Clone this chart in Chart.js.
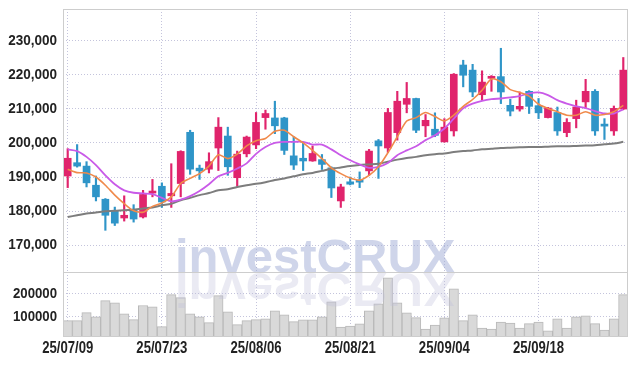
<!DOCTYPE html>
<html><head><meta charset="utf-8">
<script src="https://cdn.jsdelivr.net/npm/chart.js@4.4.1/dist/chart.umd.min.js"></script>
<style>
html,body{margin:0;padding:0;background:#fff;}
#wrap{position:relative;width:636px;height:366px;overflow:hidden;background:#fff;}
#main{position:absolute;left:0;top:0;}
#vol{position:absolute;left:0;top:272px;}
</style></head><body>
<div id="wrap"><canvas id="main" width="636" height="273"></canvas><canvas id="vol" width="636" height="94"></canvas></div>
<script>
const dates = ['25/07/09','25/07/10','25/07/11','25/07/14','25/07/15','25/07/16','25/07/17','25/07/18','25/07/21','25/07/22',
'25/07/23','25/07/24','25/07/25','25/07/28','25/07/29','25/07/30','25/07/31','25/08/01','25/08/04','25/08/05',
'25/08/06','25/08/07','25/08/08','25/08/11','25/08/12','25/08/13','25/08/14','25/08/18','25/08/19','25/08/20',
'25/08/21','25/08/22','25/08/25','25/08/26','25/08/27','25/08/28','25/08/29','25/09/01','25/09/02','25/09/03',
'25/09/04','25/09/05','25/09/08','25/09/09','25/09/10','25/09/11','25/09/12','25/09/15','25/09/16','25/09/17',
'25/09/18','25/09/19','25/09/22','25/09/23','25/09/24','25/09/25','25/09/26','25/09/29','25/09/30','25/10/01'];

const opens = [190300,194200,193200,187600,183500,180200,178000,180600,178300,185300,
187300,184500,188100,203100,192600,192300,198500,202000,189800,196800,
199400,207400,207300,207300,196200,195500,194700,195100,192700,183000,
188600,189100,191800,200600,198500,203000,211300,213000,205000,204000,
200300,203500,222800,221300,214100,218900,219400,211000,209900,215100,
210900,207400,208900,203000,207100,212000,215100,205500,203500,209900];
const highs = [198300,199500,194500,190300,183700,181200,184500,181900,186100,189300,
188300,193900,197700,203700,193500,197100,207400,204600,197600,202000,
208900,209600,212200,207500,201800,200000,199100,196600,193000,187900,
190000,191500,198100,201000,210100,215100,217700,213100,208300,208800,
207100,220300,224200,223000,221100,219700,227700,212800,214900,215300,
213000,210400,210500,207100,212500,218600,215600,207100,210800,225000];
const lows = [186900,192900,187100,183000,174400,175800,177100,176800,178000,184200,
181100,181100,184200,190800,189300,191200,191900,190500,187300,195900,
198300,204000,202700,196600,192200,191900,194600,192200,184000,181100,
187700,186900,190500,189600,197200,200800,208800,203000,201800,201800,
200200,202000,216400,213500,212500,215100,211500,207900,209300,208600,
207100,207300,202200,201800,204400,210100,202200,201000,202200,209700];
const closes = [195500,193200,188300,184200,178800,176500,178800,177700,184900,185900,
182700,185200,197500,192300,191800,194500,204600,193000,196700,201700,
206000,208600,205000,197800,193500,194700,196900,193700,186800,187100,
187900,188500,197600,199100,208900,212200,213000,203700,206600,202200,
204600,220100,219800,214900,217800,219500,214900,209300,210700,210700,
208800,210200,203500,206000,210500,215100,203500,204900,210100,221300];

const ma5 = [192300,191300,191200,190000,187600,184700,182200,180100,179700,181400,
182400,184200,188100,189600,191000,193200,196500,195400,196700,199100,
200600,201300,203400,203700,201800,200000,197800,195400,192700,191000,
189700,189100,190500,193000,197100,201800,206400,207400,208900,207700,
206400,208100,210700,212700,215400,218700,217900,215600,214800,213700,
211300,210100,209100,208100,208100,209100,208100,208300,209100,211000];
const ma20 = [198100,197600,195900,193500,190500,187900,186100,185400,185200,185000,
183900,182900,183400,184400,185900,187900,190200,191200,192500,194000,
196800,198800,200000,200300,200300,200300,199500,199500,198100,196400,
194900,193700,192700,193000,194100,196400,197800,199000,200800,202200,
204200,207100,210100,211500,212300,212800,213000,213300,213700,214500,
214800,214000,212500,211500,210700,210200,209300,208600,208600,209800];
const ma60 = [178300,178800,179300,179600,180000,180100,180300,180400,180800,181100,
181700,182200,183200,183900,184700,185300,186100,186400,187100,187600,
188000,188500,189100,189600,190200,190800,191200,191800,192400,192800,
193200,193500,193700,193900,194500,195100,195600,195900,196400,196700,
196900,197300,197600,197800,198100,198300,198500,198600,198700,198800,
198800,198900,199000,199000,199100,199200,199300,199600,199800,200300];

const volumes = [82400,82400,117600,98700,170500,160300,111900,86800,148900,142700,
55900,197000,183700,111900,98700,73600,192600,120700,64800,82400,
86800,89900,125100,107500,78000,85500,85500,98700,164800,54600,
59000,67900,125100,155900,270500,160300,116300,95600,45800,63400,
94300,222000,82400,107500,50200,45800,76600,72200,50200,69300,
76600,37400,89900,50200,98700,103100,69300,41500,89900,197000];

const priceRange = {min:161900, max:239200};
const priceTickValues = [170000,180000,190000,200000,210000,220000,230000];
const volRange = {min:10600, max:296000};
const volTickValues = [100000,200000];
const watermark = 'investCRUX';

const UP = '#e0246c', DOWN = '#2f95c8';
const GRID = '#c4c4dc';
const LFONT = "'Liberation Sans', Arial, sans-serif";
const candleColor = c => (closes[c.dataIndex] >= opens[c.dataIndex] ? UP : DOWN);

const frame = { id:'frame', afterDraw(chart){
  const {ctx, chartArea:a} = chart; ctx.save(); ctx.strokeStyle='#cdcdcd'; ctx.lineWidth=1;
  ctx.strokeRect(Math.round(a.left)+0.5, Math.round(a.top)+0.5, Math.round(a.right-a.left)-1, Math.round(a.bottom-a.top)-1);
  ctx.restore(); } };
const mark = { id:'mark', beforeDatasetsDraw(chart){
  const {ctx, chartArea:a} = chart; ctx.save();
  ctx.font = "bold 49px " + LFONT; ctx.fillStyle='rgba(160,172,214,0.5)';
  ctx.textBaseline='alphabetic'; ctx.textAlign='left'; ctx.fillText(watermark, 175, a.bottom-0.3); ctx.restore(); } };
const markMirror = { id:'markMirror', afterDatasetsDraw(chart){
  const {ctx, chartArea:a} = chart; ctx.save();
  ctx.beginPath(); ctx.rect(a.left, a.top, a.right-a.left, a.bottom-a.top); ctx.clip();
  ctx.translate(0, a.top+0.7); ctx.scale(1,-1);
  ctx.font = "bold 49px " + LFONT; ctx.fillStyle='rgba(190,190,218,0.33)';
  ctx.textBaseline='alphabetic'; ctx.textAlign='left'; ctx.fillText(watermark, 175, 0); ctx.restore(); } };

// condensed tick labels drawn at the scales' own tick positions
function drawCondensed(ctx, text, x, y, size, sx, align){
  ctx.save(); ctx.translate(x, y); ctx.scale(sx, 1);
  ctx.font = 'bold ' + size + 'px ' + LFONT; ctx.fillStyle = '#222';
  ctx.textAlign = align; ctx.textBaseline = 'middle'; ctx.fillText(text, 0, 0); ctx.restore();
}
const tickText = { id:'tickText', afterDraw(chart, args, o){
  const ctx = chart.ctx; const y = chart.scales.y; const x = chart.scales.x;
  y.ticks.forEach((t,i)=>{ drawCondensed(ctx, String(t.label), y.right - 6, y.getPixelForTick(i), o.ySize, o.ySx, 'right'); });
  if (o.xLabels) {
    x.ticks.forEach((t,i)=>{ if (t.label) drawCondensed(ctx, String(t.label), x.getPixelForTick(i), chart.chartArea.bottom + 12, 16, 0.82, 'center'); });
  }
} };

const xGrid = { offset:false, drawTicks:false, color: c => (c.index % 10 === 0 ? GRID : 'rgba(0,0,0,0)'), lineWidth:1 };

new Chart(document.getElementById('main'), {
  type:'bar',
  data:{ labels:dates, datasets:[
    {type:'line', data:ma5, borderColor:'#f08a4b', borderWidth:1.6, pointRadius:0, tension:0.25, order:0},
    {type:'line', data:ma20, borderColor:'#c95ae8', borderWidth:1.8, pointRadius:0, tension:0.3, order:0},
    {type:'line', data:ma60, borderColor:'#7d7d7d', borderWidth:2, pointRadius:0, tension:0.3, order:0},
    {data:opens.map((o,i)=>[o, closes[i]]), backgroundColor:candleColor, barThickness:7, grouped:false, order:1},
    {data:lows.map((l,i)=>[l, highs[i]]), backgroundColor:candleColor, barThickness:1.5, grouped:false, order:2}
  ]},
  options:{ responsive:false, animation:false, devicePixelRatio:1,
    layout:{padding:{top:9,right:8,bottom:0,left:0}},
    plugins:{legend:{display:false}, tooltip:{enabled:false}, tickText:{ySize:15, ySx:0.9, xLabels:false}},
    scales:{
      x:{ offset:true, grid:xGrid, border:{display:false, dash:[1,2]}, ticks:{display:false} },
      y:{ position:'left', min:priceRange.min, max:priceRange.max, beginAtZero:false,
          grid:{drawTicks:false, color:GRID}, border:{display:false, dash:[1,2]},
          ticks:{display:false},
          afterBuildTicks:s=>{ s.ticks = priceTickValues.map(v=>({value:v})); },
          afterFit:s=>{ s.width = 63; } }
    }
  },
  plugins:[mark, frame, tickText]
});

new Chart(document.getElementById('vol'), {
  type:'bar',
  data:{ labels:dates, datasets:[
    {data:volumes, backgroundColor:'#d9d9d9', borderColor:'#b9b9b9', borderWidth:1, barPercentage:1, categoryPercentage:1}
  ]},
  options:{ responsive:false, animation:false, devicePixelRatio:1,
    layout:{padding:{top:0,right:8,bottom:0,left:0}},
    plugins:{legend:{display:false}, tooltip:{enabled:false}, tickText:{ySize:15, ySx:0.88, xLabels:true}},
    scales:{
      x:{ offset:true, grid:xGrid, border:{display:false, dash:[1,2]},
          ticks:{display:false, autoSkip:false, callback:(v,i)=> (i % 10 === 0 ? dates[i] : '')},
          afterFit:s=>{ s.height = 29; } },
      y:{ position:'left', min:volRange.min, max:volRange.max, beginAtZero:false,
          grid:{drawTicks:false, color:GRID}, border:{display:false, dash:[1,2]},
          ticks:{display:false, callback:v=>String(v)},
          afterBuildTicks:s=>{ s.ticks = volTickValues.map(v=>({value:v})); },
          afterFit:s=>{ s.width = 63; } }
    }
  },
  plugins:[markMirror, frame, tickText]
});
</script>
</body></html>
